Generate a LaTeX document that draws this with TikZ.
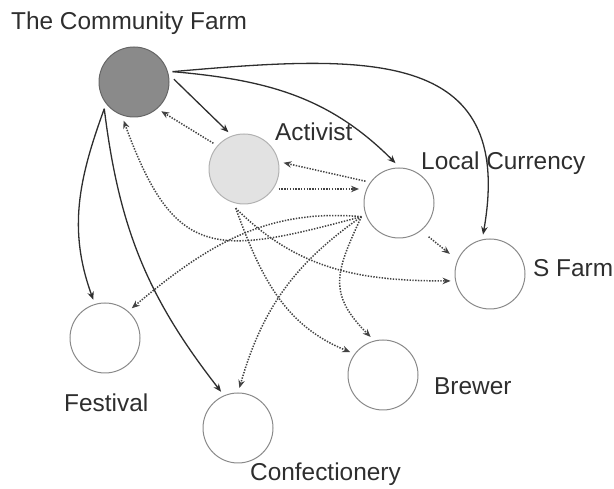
\documentclass[tikz,border=0pt]{standalone}
\usepackage{fontspec}
\setmainfont{Liberation Sans}
\usetikzlibrary{arrows.meta, positioning}
\definecolor{hubfill}{HTML}{8A8A8A}
\definecolor{actfill}{HTML}{E2E2E2}
\definecolor{ringgray}{HTML}{8A8A8A}
\definecolor{inkgray}{HTML}{2E2E2E}

\begin{document}
\begin{tikzpicture}[x=1pt, y=1pt,
    actor/.style={circle, minimum size=70pt, inner sep=0pt, outer sep=5pt, line width=1pt, draw=ringgray, fill=white},
    lbl/.style={anchor=base west, inner sep=0pt, text=inkgray, font=\fontsize{24.4}{28}\selectfont},
    link/.style={line width=1.3pt, draw=inkgray, -{Stealth[length=8pt, width=6.5pt]}},
    flow/.style={line width=1.5pt, dash pattern=on 1.4pt off 1.4pt, draw=inkgray!90, -{Stealth[length=8pt, width=6.5pt]}}]
      \useasboundingbox (0, 0) rectangle (614, 489);
      \node[actor, fill=hubfill, draw=gray!80!black] (cf) at (134, 407) {};
      \node[actor, fill=actfill, draw=gray!60] (act) at (244, 320) {};
      \node[actor] (lc) at (399, 286) {};
      \node[actor] (sf) at (490, 215) {};
      \node[actor] (fest) at (105, 151) {};
      \node[actor] (conf) at (238, 61) {};
      \node[actor] (brew) at (383, 114) {};
      \node[lbl] (cflbl) at (11, 459) {The Community Farm};
      \node[lbl] (actlbl) at (275, 348) {Activist};
      \node[lbl] (lclbl) at (421, 319) {Local Currency};
      \node[lbl] (sflbl) at (533, 212) {S Farm};
      \node[lbl] (festlbl) at (64, 77) {Festival};
      \node[lbl] (brewlbl) at (434, 94) {Brewer};
      \node[lbl] (conflbl) at (250, 8) {Confectionery};
      \draw[link] (cf.4) -- (act.113);
      \draw[link] (cf.15) to[out=-5, in=135] (lc.95);
      \draw[link] (cf.15) to[out=5, in=80, looseness=1.4] (sf.100);
      \draw[link] (cf.222) to[out=250, in=110] (fest.107);
      \draw[link] (cf.222) to[out=277, in=128] (conf.115);
      \draw[flow] (act.140) -- (cf.-47);
      \draw[flow] (lc.147) -- (act.9);
      \draw[flow] (act.-30) -- (act.-30 -| lc.west);
      \draw[flow, shorten <=5pt, shorten >=5pt] (lc.-50) -- (sf.155);
      \draw[flow] (lc.200) to[out=195, in=290, looseness=1.5] (cf.255);
      \draw[flow] (lc.200) to[out=175, in=40] (fest.48);
      \draw[flow] (lc.200) to[out=215, in=74] (conf.88);
      \draw[flow] (lc.200) to[out=245, in=135, looseness=1.3] (brew.108);
      \draw[flow] (act.258) to[out=290, in=158] (brew.145);
      \draw[flow] (act.258) to[out=315, in=180] (sf.190);
    \end{tikzpicture}
\end{document}
